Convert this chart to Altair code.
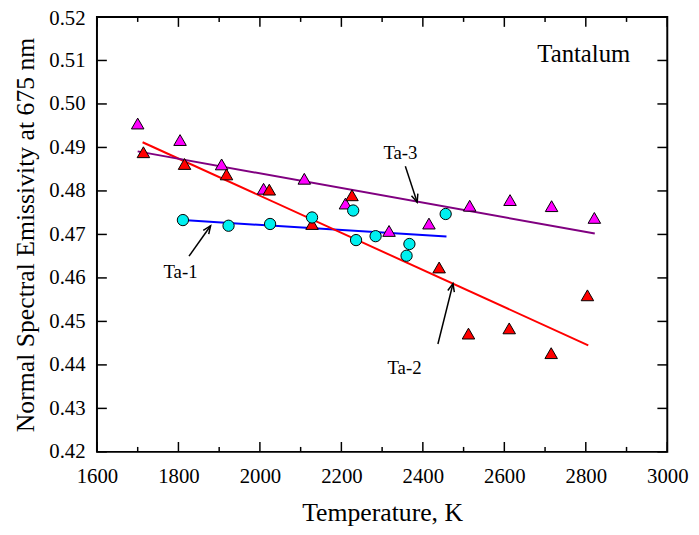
import math
import altair as alt
import pandas as pd

# ---- data ----
ta1_T = [1811, 1923, 2025, 2128, 2229, 2236, 2284, 2360, 2367, 2456]
ta1_E = [0.4733, 0.4720, 0.4724, 0.4739, 0.4755, 0.4687, 0.4696, 0.4651, 0.4678, 0.4747]

ta2_T = [1714, 1815, 1918, 2023, 2128, 2226, 2440, 2512, 2612, 2715, 2804]
ta2_E = [0.4889, 0.4862, 0.4838, 0.4803, 0.4724, 0.4790, 0.4624, 0.4472, 0.4484, 0.4427, 0.4560]

ta3_T = [1700, 1804, 1906, 2009, 2109, 2210, 2317, 2415, 2515, 2614, 2716, 2821]
ta3_E = [0.4955, 0.4917, 0.4861, 0.4805, 0.4828, 0.4771, 0.4708, 0.4725, 0.4766, 0.4779, 0.4765, 0.4738]

fit1_T = [1811, 2458]
fit1_E = [0.4733, 0.4695]
fit2_T = [1712, 2806]
fit2_E = [0.4912, 0.4445]
fit3_T = [1700, 2822]
fit3_E = [0.4891, 0.4702]

label_text = ["Ta-1", "Ta-2", "Ta-3"]
label_T = [1805, 2355, 2345]
label_E = [0.4613, 0.4393, 0.4886]

arrow_T = [1826, 2437, 2357]
arrow_E = [0.4650, 0.4448, 0.4857]
arrow_T2 = [1879, 2474, 2386]
arrow_E2 = [0.4720, 0.4587, 0.4774]

x_major = [1600, 1800, 2000, 2200, 2400, 2600, 2800, 3000]
x_minor = [1700, 1900, 2100, 2300, 2500, 2700, 2900]
y_major = [0.42, 0.43, 0.44, 0.45, 0.46, 0.47, 0.48, 0.49, 0.50, 0.51, 0.52]

# ---- layout ----
W, H = 577, 440
XMIN, XMAX, YMIN, YMAX = 1600, 3000, 0.42, 0.52
FONT = "Liberation Serif"

xs = alt.Scale(domain=[XMIN, XMAX], nice=False, zero=False)
ys = alt.Scale(domain=[YMIN, YMAX], nice=False, zero=False)

xaxis = alt.Axis(values=x_major, format="d", title="Temperature, K", grid=False,
                 ticks=False, tickSize=0, domain=False, labelFont=FONT, labelFontSize=21,
                 labelPadding=14, labelFlush=False, labelOverlap=False, labelColor="black",
                 titleFont=FONT, titleFontSize=26, titleFontWeight="normal",
                 titlePadding=13, titleColor="black")
yaxis = alt.Axis(values=y_major, format=".2f", title="Normal Spectral Emissivity at 675 nm",
                 grid=False, ticks=False, tickSize=0, domain=False, labelFont=FONT,
                 labelFontSize=21, labelPadding=12, labelFlush=False, labelOverlap=False,
                 labelOffset={"condition": {"test": "datum.value >= 0.519", "value": 2},
                              "value": 0},
                 labelColor="black", titleFont=FONT, titleFontSize=26,
                 titleFontWeight="normal", titlePadding=10, titleColor="black")


def X(f):
    return alt.X(f, type="quantitative", scale=xs, axis=xaxis)


def Y(f):
    return alt.Y(f, type="quantitative", scale=ys, axis=yaxis)


def line_layer(T, E, color):
    df = pd.DataFrame({"T": T, "E": E})
    return alt.Chart(df).mark_line(color=color, strokeWidth=2).encode(x=X("T"), y=Y("E"))


def pts(T, E, shape, fill, size):
    df = pd.DataFrame({"T": T, "E": E})
    return alt.Chart(df).mark_point(shape=shape, filled=True, fill=fill, stroke="black",
                                    strokeWidth=1, size=size, opacity=1).encode(
        x=X("T"), y=Y("E"))


lines = [
    line_layer(fit1_T, fit1_E, "#0000ff"),
    line_layer(fit2_T, fit2_E, "#ff0000"),
    line_layer(fit3_T, fit3_E, "#800080"),
]

points = [
    pts(ta3_T, ta3_E, "triangle-up", "#ff00ff", 160),
    pts(ta2_T, ta2_E, "triangle-up", "#ff0000", 160),
    pts(ta1_T, ta1_E, "circle", "#00f0f0", 130),
]

# arrows
angles = []
for t, e, t2, e2 in zip(arrow_T, arrow_E, arrow_T2, arrow_E2):
    dx = (t2 - t) * W / (XMAX - XMIN)
    dy = -(e2 - e) * H / (YMAX - YMIN)
    angles.append(math.degrees(math.atan2(dx, -dy)) % 360)
df_arrow = pd.DataFrame({"T": arrow_T, "E": arrow_E, "T2": arrow_T2, "E2": arrow_E2,
                         "ang": angles})
arrow_shaft = alt.Chart(df_arrow).mark_rule(color="black", strokeWidth=1.5).encode(
    x=X("T"), y=Y("E"), x2="T2", y2="E2")
arrow_head = alt.Chart(df_arrow).mark_point(
    shape="M -0.42 1 L 0 0 L 0.42 1", filled=False, stroke="black", strokeWidth=1.5,
    size=260, opacity=1).encode(x=X("T2"), y=Y("E2"), angle=alt.Angle("ang:Q", scale=None))

df_lab = pd.DataFrame({"T": label_T, "E": label_E, "txt": label_text})
labels = alt.Chart(df_lab).mark_text(font=FONT, fontSize=19, color="black",
                                     baseline="middle", align="center").encode(
    x=X("T"), y=Y("E"), text="txt:N")

df_tan = pd.DataFrame({"T": [2795], "E": [0.5114], "txt": ["Tantalum"]})
tantalum = alt.Chart(df_tan).mark_text(font=FONT, fontSize=25, color="black",
                                       baseline="middle", align="center").encode(
    x=X("T"), y=Y("E"), text="txt:N")

# inward ticks
df_xmaj = pd.DataFrame({"T": x_major})
df_xmin = pd.DataFrame({"T": x_minor})
df_ymaj = pd.DataFrame({"E": y_major})
MAJ, MIN = 10, 5
tick_layers = [
    alt.Chart(df_xmaj).mark_rule(color="black", strokeWidth=1.5).encode(
        x=X("T"), y=alt.value(H), y2=alt.value(H - MAJ)),
    alt.Chart(df_xmaj).mark_rule(color="black", strokeWidth=1.5).encode(
        x=X("T"), y=alt.value(0), y2=alt.value(MAJ)),
    alt.Chart(df_xmin).mark_rule(color="black", strokeWidth=1.5).encode(
        x=X("T"), y=alt.value(H), y2=alt.value(H - MIN)),
    alt.Chart(df_xmin).mark_rule(color="black", strokeWidth=1.5).encode(
        x=X("T"), y=alt.value(0), y2=alt.value(MIN)),
    alt.Chart(df_ymaj).mark_rule(color="black", strokeWidth=1.5).encode(
        y=Y("E"), x=alt.value(0), x2=alt.value(MAJ)),
    alt.Chart(df_ymaj).mark_rule(color="black", strokeWidth=1.5).encode(
        y=Y("E"), x=alt.value(W), x2=alt.value(W - MAJ)),
]

chart = alt.layer(*tick_layers, *lines, *points, arrow_shaft, arrow_head, labels,
                  tantalum).properties(
    width=W, height=H,
    autosize=alt.AutoSizeParams(type="none"),
    padding={"left": 90, "top": 6, "right": 24, "bottom": 80},
    background="white",
).configure_view(stroke="black", strokeWidth=2)

chart.save("out.html", embed_options={"renderer": "svg", "actions": False})
